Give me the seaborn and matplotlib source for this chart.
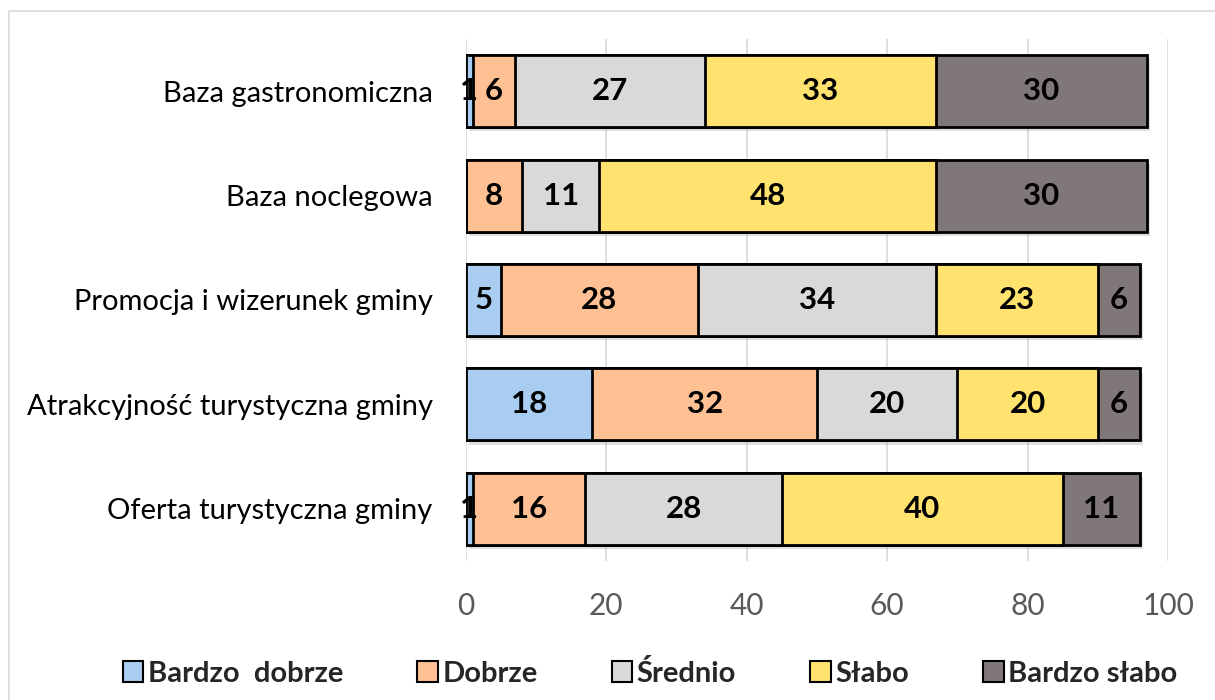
import matplotlib
matplotlib.use("Agg")
import matplotlib.pyplot as plt
import matplotlib.patheffects as pe
from matplotlib.patches import Patch, Rectangle
import numpy as np
import pandas as pd
import seaborn as sns

categories = ["Baza gastronomiczna", "Baza noclegowa", "Promocja i wizerunek gminy",
              "Atrakcyjność turystyczna gminy", "Oferta turystyczna gminy"]
series_names = ["Bardzo  dobrze", "Dobrze", "Średnio", "Słabo", "Bardzo słabo"]
bardzo_dobrze = [1, 0, 5, 18, 1]
dobrze = [6, 8, 28, 32, 16]
srednio = [27, 11, 34, 20, 28]
slabo = [33, 48, 23, 20, 40]
bardzo_slabo = [30, 30, 6, 6, 11]
x_ticks = [0, 20, 40, 60, 80, 100]

colors = ["#A9CDF0", "#FFC194", "#D9D9D9", "#FFE36E", "#807878"]

series = [bardzo_dobrze, dobrze, srednio, slabo, bardzo_slabo]
vals = np.array(series, dtype=float)
cum = np.cumsum(vals, axis=0)

sns.set_theme(style="white")
plt.rcParams['font.family'] = ['Lato', 'DejaVu Sans']

fig = plt.figure(figsize=(12.15, 7.0), dpi=100)
ax = fig.add_axes([0.3835, 0.1986, 0.5778, 0.7457])

# figure frame
fig.patches.append(Rectangle((9 / 1215, -0.1), 1.2, 1 - 11 / 700 + 0.1, transform=fig.transFigure,
                             fill=False, edgecolor="#D9D9D9", linewidth=1.2, zorder=0))

for k in range(len(series) - 1, -1, -1):
    df = pd.DataFrame({"cat": categories, "val": cum[k]})
    sns.barplot(data=df, x="val", y="cat", order=categories, color=colors[k],
                orient="h", width=0.69, edgecolor="black", linewidth=2.0,
                saturation=1, ax=ax, zorder=3)

shadow = [pe.SimplePatchShadow(offset=(2, -3), shadow_rgbFace="#808080", alpha=0.25), pe.Normal()]
nb = len(categories)
for i, p in enumerate(ax.patches):
    if i < nb:
        p.set_path_effects(shadow)

for k in range(len(series)):
    for i in range(nb):
        v = vals[k, i]
        if v <= 0:
            continue
        xc = cum[k, i] - v / 2
        ax.text(xc, i, f"{int(v)}", ha="center", va="center", fontsize=22.5,
                fontweight="bold", color="black", zorder=5)

ax.set_xlim(0, 100)
ax.set_ylim(4.5, -0.5)
ax.set_xticks(x_ticks)
ax.set_xticklabels([str(t) for t in x_ticks], fontsize=21.5, color="#595959")
ax.tick_params(axis="y", labelsize=21, labelcolor="black", pad=24, length=0)
ax.tick_params(axis="x", pad=22, length=0)
ax.set_xlabel("")
ax.set_ylabel("")
ax.grid(axis="x", color="#D9D9D9", linewidth=1.2, zorder=0)
ax.set_axisbelow(True)
for s in ax.spines.values():
    s.set_visible(False)

handles = [Patch(facecolor=c, edgecolor="black", linewidth=1.5, label=n)
           for c, n in zip(colors, series_names)]
leg = fig.legend(handles=handles, loc="center", bbox_to_anchor=(0.535, 0.038), ncol=5,
                 frameon=False, handlelength=0.7, handleheight=0.7, handletextpad=0.15,
                 columnspacing=2.55, prop={"size": 21, "weight": "bold"})

fig.savefig("out.png", dpi=100)
